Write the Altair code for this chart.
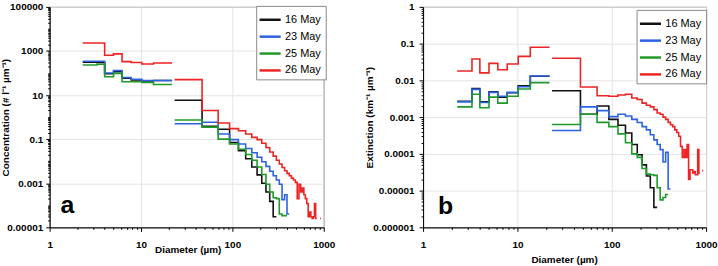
import altair as alt
import pandas as pd

# Flight dates and line colours
DATES = ["16 May", "23 May", "25 May", "26 May"]
COLORS = ["#111111", "#2b63e3", "#1f9a2a", "#ee2424"]

# Bin edges (µm) of the small-particle probe and the imaging probe
EDGES_SMALL = [2.3, 3.3, 4.0, 5.0, 6.2, 7.8, 10.2, 13.7, 21.9]
EDGES_LARGE = [23.3, 46.6, 69.9, 93.2, 116.5, 139.8, 163.1, 186.4, 209.7, 233.0,
               256.3, 279.6, 302.9, 326.2, 349.5, 372.8, 396.1, 419.4, 442.7, 466.0,
               489.3, 512.6, 535.9, 559.2, 582.5, 605.8, 629.1, 652.4, 675.7, 699.0,
               722.3, 745.6, 768.9, 792.2, 815.5, 838.8, 862.1, 885.4, 908.7, 932.0]

# (a) number concentration, # l-1 um-1
CONC_16_SMALL = [310, 300, 92, 115, 58, 48, 44, 46]
CONC_16_LARGE = [5.8, 0.38, 0.28, 0.07, 0.03, 0.013, 0.0055, 0.0024, 0.001, 0.0004,
                 0.00015, 0.00003]
CONC_23_SMALL = [340, 340, 100, 130, 63, 52, 46, 46]
CONC_23_LARGE = [0.5, 0.58, 0.17, 0.095, 0.06, 0.038, 0.024, 0.015, 0.0095, 0.0058,
                 0.0035, 0.0022, 0.0014, 0.0009, 0.00018, 0.0003, 0.00004]
CONC_25_SMALL = [230, 250, 68, 96, 40, 40, 37, 30]
CONC_25_LARGE = [0.74, 0.35, 0.1, 0.06, 0.035, 0.02, 0.011, 0.0055, 0.0025, 0.0009,
                 0.0004, 0.00022, 0.0002, 0.00004, 0.000034, 0.000034]
CONC_26_SMALL = [2300, 2300, 640, 740, 330, 300, 255, 285]
CONC_26_LARGE = [50, 2.0, 0.54, 0.3, 0.24, 0.17, 0.12, 0.095, 0.065, 0.042,
                 0.026, 0.017, 0.011, 0.0075, 0.0052, 0.0037, 0.0028, 0.0022, 0.0017, 0.0014,
                 0.0011, 0.0002, 0.0009, 0.0004, 0.0006, 0.0003, 0.0002, 0.00012, 0.00003, 0.00005,
                 0.00003, 0.000025, 0.00003, 0.00012, 0.000025, None, None, None, 0.000025]

# (b) extinction, km-1 um-1
EXT_16_SMALL = [0.0027, 0.006, 0.0026, 0.0049, 0.0035, 0.0046, 0.0071, 0.0129]
EXT_16_LARGE = [0.0052, 0.0012, 0.002, 0.00087, 0.0006, 0.00037, 0.00018, 0.000095,
                0.00005, 0.000025, 0.000012, 0.0000035]
EXT_23_SMALL = [0.0026, 0.0057, 0.0025, 0.0047, 0.0037, 0.0047, 0.0067, 0.0132]
EXT_23_LARGE = [0.00043, 0.0019, 0.0015, 0.00103, 0.0012, 0.00107, 0.00087, 0.00071,
                0.00055, 0.00045, 0.00033, 0.00024, 0.00018, 0.00013, 0.00006, 0.00011,
                0.000011]
EXT_25_SMALL = [0.0019, 0.0042, 0.0018, 0.0035, 0.0024, 0.0037, 0.0058, 0.0087]
EXT_25_LARGE = [0.00063, 0.0012, 0.00072, 0.00055, 0.00035, 0.0002, 0.0001, 0.00008,
                0.00004, 0.000028, 0.000027, 0.000026, 0.000012, 0.0000056, 0.0000065,
                0.0000078]
EXT_26_SMALL = [0.018, 0.038, 0.016, 0.029, 0.0195, 0.028, 0.045, 0.08]
EXT_26_LARGE = [0.040, 0.0066, 0.0038, 0.0037, 0.0040, 0.0042, 0.0033, 0.003, 0.0024,
                0.0021, 0.0019, 0.0016, 0.0013, 0.0012, 0.001, 0.00087, 0.00072, 0.00062,
                0.00055, 0.00045, 0.00038, 0.0003, 0.00016, 0.00008, 0.00013, 0.00008,
                0.00018, 0.00002, 0.000037, 0.000037, 0.00003, 0.000033, 0.000027,
                0.000027, 0.00013, 0.00003, None, None, 0.000035]

PANEL_TAGS = ["a", "b"]

FONT = "Liberation Sans"


def step_rows(series, edges, values, probe):
    """Turn per-bin values into a stepped path; missing bins break the path."""
    rows, run, open_run = [], 0, False
    for k, val in enumerate(values):
        if val is None:
            if open_run:
                run += 1
                open_run = False
            continue
        seg = f"{series}|{probe}|{run}"
        rows.append({"series": series, "seg": seg, "d": edges[k], "v": val})
        rows.append({"series": series, "seg": seg, "d": edges[k + 1], "v": val})
        open_run = True
    return rows


def panel_frame(groups):
    rows = []
    for series, small, large in groups:
        rows += step_rows(series, EDGES_SMALL, small, "s")
        rows += step_rows(series, EDGES_LARGE, large, "l")
    df = pd.DataFrame(rows)
    df["i"] = range(len(df))
    return df


conc = panel_frame([
    (DATES[0], CONC_16_SMALL, CONC_16_LARGE),
    (DATES[1], CONC_23_SMALL, CONC_23_LARGE),
    (DATES[2], CONC_25_SMALL, CONC_25_LARGE),
    (DATES[3], CONC_26_SMALL, CONC_26_LARGE),
])
ext = panel_frame([
    (DATES[0], EXT_16_SMALL, EXT_16_LARGE),
    (DATES[1], EXT_23_SMALL, EXT_23_LARGE),
    (DATES[2], EXT_25_SMALL, EXT_25_LARGE),
    (DATES[3], EXT_26_SMALL, EXT_26_LARGE),
])


def log_ticks(lo, hi):
    return [m * 10.0 ** e for e in range(lo, hi) for m in range(1, 10)] + [10.0 ** hi]


LG = "(log(datum.value)/LN10)"
MAJOR = f"abs({LG} - round({LG})) < 1e-6"
ODD = f"({MAJOR}) && (abs(round({LG})) % 2 == 1)"
NUM = ("datum.value >= 1 ? format(datum.value, 'd') : "
       f"'0.' + pad('1', round(-{LG}), '0', 'left')")


def axis(values, labeled, **kw):
    return alt.Axis(
        values=values,
        labelExpr=f"({labeled}) ? ({NUM}) : ''",
        tickSize={"condition": {"test": labeled, "value": 4}, "value": 2},
        gridOpacity={"condition": {"test": labeled, "value": 1}, "value": 0},
        labelOverlap=False, labelFlush=False, labelBound=False,
        **kw,
    )


color = alt.Color(
    "series:N",
    scale=alt.Scale(domain=DATES, range=COLORS),
    title=None,
)


def panel(df, ylo, yhi, ylabeled, ytitle, ytitle_x, xtitle_x, xtitle_y,
          legend_xy, tag, tag_xy, width, yticks_lo, yticks_hi, ylabel_pad):
    lines = alt.Chart(df).mark_line(strokeWidth=1.6, interpolate="linear").encode(
        x=alt.X("d:Q", scale=alt.Scale(type="log", domain=[1, 1000], nice=False),
                axis=axis(log_ticks(0, 3), MAJOR, title="Diameter (µm)",
                          titleX=xtitle_x, titleY=xtitle_y, titleAlign="center",
                          titleBaseline="alphabetic", labelPadding=8)),
        y=alt.Y("v:Q", scale=alt.Scale(type="log", domain=[ylo, yhi], nice=False),
                axis=axis(log_ticks(yticks_lo, yticks_hi), ylabeled, title=ytitle,
                          titleX=ytitle_x, titleY=111, titleAngle=-90,
                          titleAlign="center", titleBaseline="middle",
                          labelPadding=ylabel_pad)),
        color=color.legend(
            orient="none", legendX=legend_xy[0], legendY=legend_xy[1],
            symbolType="M-1.25,0L1.25,0", symbolSize=289, symbolStrokeWidth=2.5,
            labelFont=FONT, labelFontSize=11, labelFontWeight="normal",
            labelOffset=5, padding=4, rowPadding=2,
            strokeColor="#888888", fillColor="white",
        ),
        detail="seg:N",
        order="i:Q",
    )
    label = alt.Chart(pd.DataFrame({"t": [tag]})).mark_text(
        font=FONT, fontSize=25, fontWeight="bold", align="left",
        baseline="alphabetic", color="black",
    ).encode(text="t:N", x=alt.value(tag_xy[0]), y=alt.value(tag_xy[1]))
    return alt.layer(lines, label).properties(width=width, height=222)


left = panel(conc, 1e-5, 1e5, ODD, "Concentration (# l⁻¹ µm⁻¹)", -44, 139, 25,
             (208, -1), PANEL_TAGS[0], (11, 208), 276, -5, 5, 3)
right = panel(ext, 1e-6, 1, MAJOR, "Extinction (km⁻¹ µm⁻¹)", -54, 142, 35,
              (215, 3), PANEL_TAGS[1], (15, 209), 285, -6, 0, 5)

chart = alt.hconcat(left, right, spacing=28).resolve_scale(
    color="independent"
).resolve_legend(
    color="independent"
).configure(
    padding=0,
    font=FONT,
).configure_view(
    stroke="#333333", strokeWidth=1,
).configure_axis(
    labelFont=FONT, labelFontSize=10, labelFontWeight="bold", labelColor="black",
    titleFont=FONT, titleFontSize=10, titleFontWeight="bold", titleColor="black",
    domainColor="black", tickColor="black", gridColor="#e4e4e4", gridWidth=1,
)

chart.save("out.html", embed_options={"renderer": "svg", "actions": False})
